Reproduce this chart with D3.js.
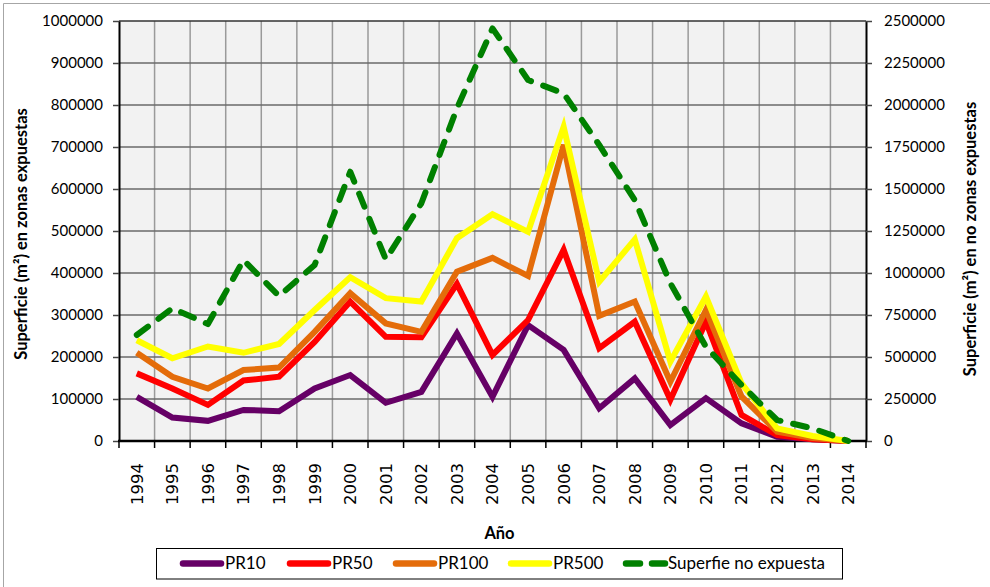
<!DOCTYPE html>
<html><head><meta charset="utf-8">
<script src="https://cdn.jsdelivr.net/npm/d3@7"></script>
<style>
html,body{margin:0;padding:0;background:#fff;}
svg{display:block;}
text{font-family:Lato,"Open Sans",sans-serif;fill:#000;}
</style></head>
<body>
<svg id="chart" width="990" height="587"></svg>
<script>
const years = ["1994","1995","1996","1997","1998","1999","2000","2001","2002","2003","2004","2005","2006","2007","2008","2009","2010","2011","2012","2013","2014"];
const pr10  = [105000,56000,48000,74000,71000,125000,157000,91000,117000,256000,105000,276000,217000,78000,149000,38000,102000,42000,10000,4000,0];
const pr50  = [161000,125000,86000,144000,153000,236000,332000,248000,247000,374000,205000,288000,455000,221000,284000,98000,284000,62000,14000,4000,0];
const pr100 = [210000,153000,125000,169000,175000,260000,352000,280000,260000,403000,436000,393000,705000,298000,332000,141000,312000,106000,22000,7000,0];
const pr500 = [240000,197000,225000,210000,231000,312000,390000,340000,332000,483000,540000,498000,748000,379000,480000,189000,344000,137000,30000,12000,0];
const noExpuesta = [631000,790000,696000,1077000,863000,1048000,1603000,1081000,1415000,1980000,2456000,2149000,2069000,1762000,1434000,939000,561000,333000,125000,75000,0];
const leftTicks = [0,100000,200000,300000,400000,500000,600000,700000,800000,900000,1000000];
const rightTicks = [0,250000,500000,750000,1000000,1250000,1500000,1750000,2000000,2250000,2500000];
const seriesNames = ["PR10","PR50","PR100","PR500","Superfie no expuesta"];
const seriesColors = ["#660066","#ff0000","#e46c0a","#ffff00","#008000"];

const svg = d3.select("#chart");
const L = 119, R = 866, T = 21, B = 441;

// outer chart border
svg.append("path").attr("d", `M3.5,587 L3.5,3.5 L990,3.5`).attr("fill","none").attr("stroke","#a6a6a6").attr("stroke-width",1);

const x = d3.scaleBand().domain(years).range([L, R]).padding(0);
const xc = d => x(d) + x.bandwidth()/2;
const yL = d3.scaleLinear().domain([0,1000000]).range([B, T]);
const yR = d3.scaleLinear().domain([0,2500000]).range([B, T]);

// plot background
svg.append("rect").attr("x",L).attr("y",T).attr("width",R-L).attr("height",B-T).attr("fill","#f2f2f2");

// vertical gridlines at category boundaries
const bounds = years.map(d => x(d)).concat([x(years[years.length-1]) + x.bandwidth()]);
svg.append("g").selectAll("line").data(bounds.slice(1,-1)).join("line")
  .attr("x1", d=>d).attr("x2", d=>d).attr("y1", T).attr("y2", B)
  .attr("stroke","#9a9a9a").attr("stroke-width",1.5);

// horizontal gridlines
svg.append("g").selectAll("line").data(leftTicks.slice(1)).join("line")
  .attr("x1", L).attr("x2", R).attr("y1", d=>yL(d)).attr("y2", d=>yL(d))
  .attr("stroke", d => d===1000000 ? "#333" : "#6a6a6a").attr("stroke-width",1.5);

// left axis
const gL = svg.append("g").attr("transform",`translate(${L},0)`)
  .call(d3.axisLeft(yL).tickValues(leftTicks).tickFormat(d3.format("d")).tickSize(6).tickPadding(10).tickSizeOuter(0));
gL.select(".domain").attr("stroke","#000").attr("stroke-width",2);
gL.selectAll(".tick line").attr("stroke","#444").attr("stroke-width",1.5);
gL.selectAll("text").style("font-size","15px").style("font-family","Lato");

// right axis
const gR = svg.append("g").attr("transform",`translate(${R},0)`)
  .call(d3.axisRight(yR).tickValues(rightTicks).tickFormat(d3.format("d")).tickSize(6).tickPadding(12).tickSizeOuter(0));
gR.select(".domain").attr("stroke","#000").attr("stroke-width",2);
gR.selectAll(".tick line").attr("stroke","#444").attr("stroke-width",1.5);
gR.selectAll("text").style("font-size","15px").style("font-family","Lato");

// bottom axis
svg.append("line").attr("x1",L-1).attr("x2",R+1).attr("y1",B).attr("y2",B).attr("stroke","#000").attr("stroke-width",2.5);
svg.append("g").selectAll("line").data(bounds).join("line")
  .attr("x1", d=>d).attr("x2", d=>d).attr("y1", B).attr("y2", B+7)
  .attr("stroke","#000").attr("stroke-width",1.5);
svg.append("g").selectAll("text").data(years).join("text")
  .attr("transform", d => `translate(${xc(d)},${B+22}) rotate(-90)`)
  .attr("text-anchor","end").attr("dy","0.36em")
  .style("font-family","'DejaVu Sans'").style("font-size","16.5px")
  .text(d=>d);

// axis titles
svg.append("text").attr("transform",`translate(21,234) rotate(-90)`)
  .attr("text-anchor","middle").attr("dy","0.35em")
  .style("font-size","16.5px").style("font-weight","bold").text("Superficie (m²) en zonas expuestas");
svg.append("text").attr("transform",`translate(970,239) rotate(-90)`)
  .attr("text-anchor","middle").attr("dy","0.35em")
  .style("font-size","16.5px").style("font-weight","bold").text("Superficie (m²) en no zonas expuestas");
svg.append("text").attr("x", (L+R)/2 + 7).attr("y", 533).attr("text-anchor","middle").attr("dy","0.35em")
  .style("font-size","16.5px").style("font-weight","bold").text("Año");

// lines
const lineL = d3.line().x((d,i)=>xc(years[i])).y(d=>yL(d));
const lineR = d3.line().x((d,i)=>xc(years[i])).y(d=>yR(d));
const leftSeries = [pr10, pr50, pr100, pr500];
leftSeries.forEach((s,i) => {
  svg.append("path").datum(s).attr("d", lineL).attr("fill","none")
    .attr("stroke", seriesColors[i]).attr("stroke-width",6).attr("stroke-linejoin","miter").attr("stroke-miterlimit",4);
});
svg.append("path").datum(noExpuesta).attr("d", lineR).attr("fill","none")
  .attr("stroke", seriesColors[4]).attr("stroke-width",6).attr("stroke-linecap","round").attr("stroke-linejoin","round")
  .attr("stroke-dasharray","14,13");

// legend
const lg = svg.append("g");
lg.append("rect").attr("x",156.5).attr("y",548.5).attr("width",686).attr("height",30.5).attr("fill","#fff").attr("stroke","#000").attr("stroke-width",1);
const legX = [180, 287, 393, 508, 623];
const legY = 563.5;
seriesNames.forEach((n,i) => {
  const g = lg.append("g");
  if (i < 4) {
    g.append("line").attr("x1",legX[i]+3).attr("x2",legX[i]+41).attr("y1",legY).attr("y2",legY)
      .attr("stroke",seriesColors[i]).attr("stroke-width",6.5).attr("stroke-linecap","round");
  } else {
    g.append("line").attr("x1",legX[i]+3).attr("x2",legX[i]+42).attr("y1",legY).attr("y2",legY)
      .attr("stroke",seriesColors[i]).attr("stroke-width",6.5).attr("stroke-linecap","round").attr("stroke-dasharray","14,12");
  }
  g.append("text").attr("x", legX[i]+45).attr("y", legY).attr("dy","0.35em")
    .style("font-size","17px").text(n);
});
</script>
</body></html>
